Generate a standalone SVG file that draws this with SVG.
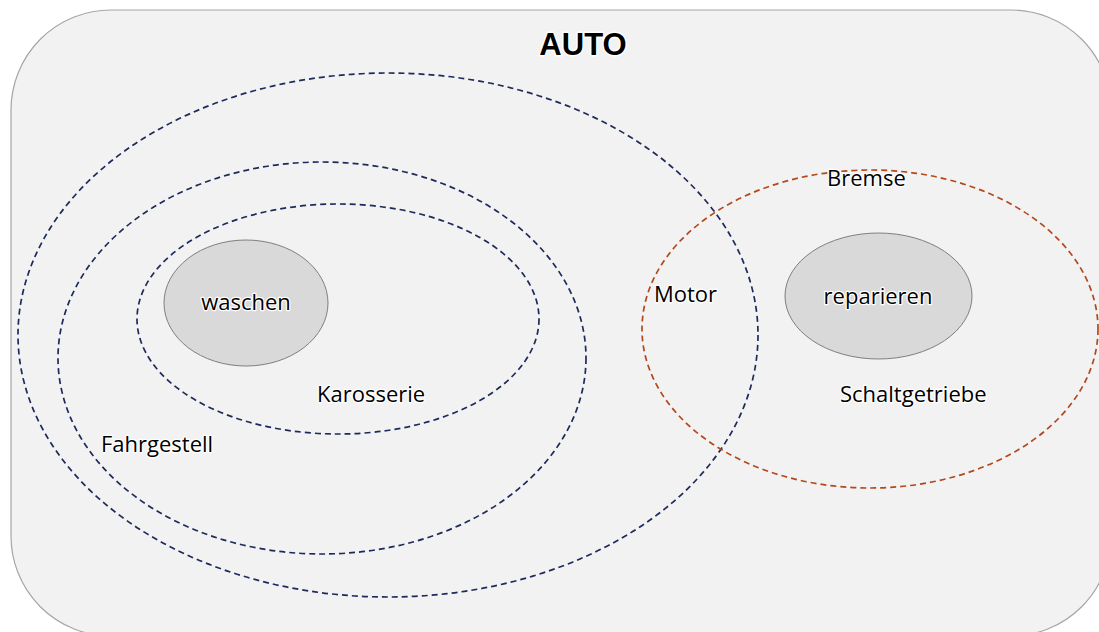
<svg xmlns="http://www.w3.org/2000/svg" width="1099" height="632" viewBox="0 0 1099 632">
  <style>
    .frame { fill: #f2f2f2; stroke: #a6a6a6; stroke-width: 1.2; }
    .set-blue { fill: none; stroke: #1f2a5c; stroke-width: 1.7; stroke-dasharray: 6 4; }
    .set-orange { fill: none; stroke: #b4481c; stroke-width: 1.7; stroke-dasharray: 6 4; }
    .op { fill: #d9d9d9; stroke: #7f7f7f; stroke-width: 1; }
    .lbl { font-family: "Open Sans", "Liberation Sans", sans-serif; font-size: 22px; fill: #000; stroke: #fff; stroke-width: 2.5; paint-order: stroke; stroke-linejoin: round; }
    .title { font-family: "Liberation Sans", Arial, sans-serif; font-size: 31px; font-weight: bold; fill: #000; stroke: #fff; stroke-width: 3; paint-order: stroke; stroke-linejoin: round; }
  </style>

  <!-- outer container -->
  <g id="auto">
    <rect class="frame" x="11" y="10" width="1100" height="626" rx="100" ry="100"/>
    <text class="title" x="583" y="55" text-anchor="middle">AUTO</text>
  </g>

  <!-- nested sets -->
  <g id="motor">
    <ellipse class="set-blue" cx="388" cy="335" rx="370" ry="262"/>
    <text class="lbl" x="654" y="302">Motor</text>
  </g>
  <g id="fahrgestell">
    <ellipse class="set-blue" cx="322" cy="358" rx="264" ry="196"/>
    <text class="lbl" x="101" y="452">Fahrgestell</text>
  </g>
  <g id="karosserie">
    <ellipse class="set-blue" cx="338" cy="319" rx="201" ry="115"/>
    <text class="lbl" x="317" y="402">Karosserie</text>
  </g>
  <g id="bremse-schaltgetriebe">
    <ellipse class="set-orange" cx="870" cy="329" rx="228" ry="159"/>
    <text class="lbl" x="827" y="186">Bremse</text>
    <text class="lbl" x="840" y="402">Schaltgetriebe</text>
  </g>

  <!-- operations -->
  <g id="waschen">
    <ellipse class="op" cx="246" cy="303" rx="82" ry="63"/>
    <text class="lbl" x="246" y="310" text-anchor="middle">waschen</text>
  </g>
  <g id="reparieren">
    <ellipse class="op" cx="878.5" cy="296" rx="93.5" ry="63"/>
    <text class="lbl" x="878" y="304" text-anchor="middle">reparieren</text>
  </g>

  <g id="connectors"/>
</svg>
